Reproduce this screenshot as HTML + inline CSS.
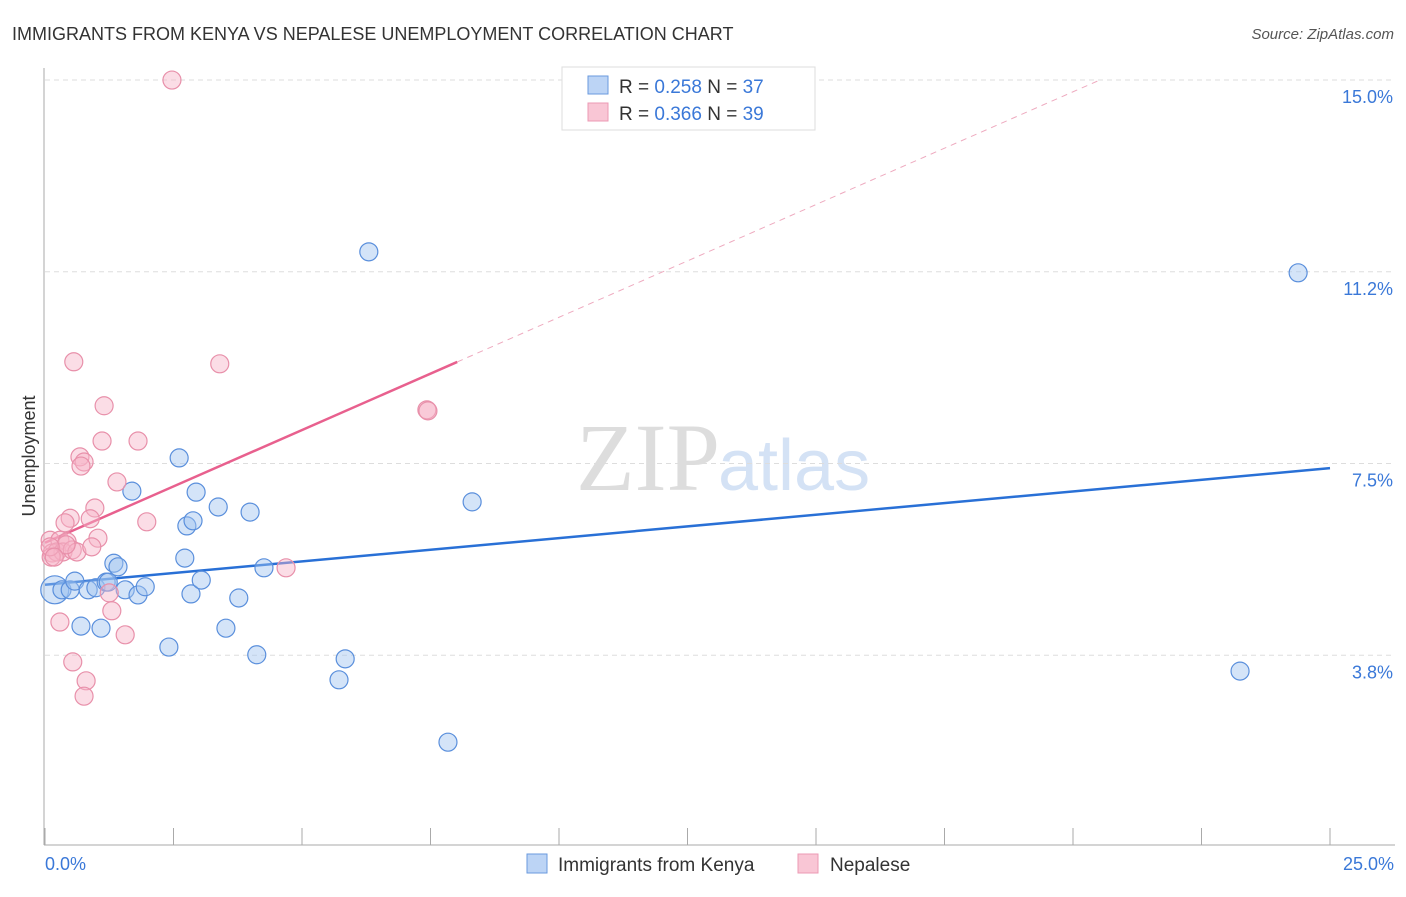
<!DOCTYPE html>
<html><head><meta charset="utf-8"><style>
body{margin:0;background:#fff;font-family:"Liberation Sans",sans-serif;}
</style></head><body>
<svg width="1406" height="892" xmlns="http://www.w3.org/2000/svg" font-family="Liberation Sans, sans-serif">
<text x="12" y="40" font-size="18" fill="#333">IMMIGRANTS FROM KENYA VS NEPALESE UNEMPLOYMENT CORRELATION CHART</text>
<text x="1394" y="39" font-size="15" fill="#555" font-style="italic" text-anchor="end">Source: ZipAtlas.com</text>
<text x="720" y="490" font-size="96" fill="#ddd" text-anchor="end" font-family="Liberation Serif, serif">ZIP</text>
<text x="718" y="490" font-size="72" fill="#d4e2f5">atlas</text>
<g id="grid"></g>
<g id="axes"></g>
<g id="lines"></g>
<g id="pts"></g>
<text x="35" y="456" font-size="18" fill="#333" text-anchor="middle" transform="rotate(-90 35 456)">Unemployment</text>
<text x="45" y="870" font-size="18" fill="#3a78d8">0.0%</text>
<text x="1394" y="870" font-size="18" fill="#3a78d8" text-anchor="end">25.0%</text>
<g>
<rect x="562" y="67" width="253" height="63" fill="#fff" stroke="#ddd"/>
<rect x="588" y="76" width="20" height="18" fill="#bcd4f5" stroke="#6a9ade"/>
<rect x="588" y="103" width="20" height="18" fill="#f9c6d5" stroke="#ec9ab4"/>
<text x="619" y="93" font-size="19" fill="#333">R = <tspan fill="#3a78d8">0.258</tspan>    N = <tspan fill="#3a78d8">37</tspan></text>
<text x="619" y="120" font-size="19" fill="#333">R = <tspan fill="#3a78d8">0.366</tspan>    N = <tspan fill="#3a78d8">39</tspan></text>
</g>
<g>
<rect x="527" y="854" width="20" height="19" fill="#bcd4f5" stroke="#6a9ade"/>
<text x="558" y="871" font-size="19" fill="#333">Immigrants from Kenya</text>
<rect x="798" y="854" width="20" height="19" fill="#f9c6d5" stroke="#ec9ab4"/>
<text x="830" y="871" font-size="19" fill="#333">Nepalese</text>
</g>
</svg>
<script>
const yTicks=[3.75,7.5,11.25,15];
const yTickLabels=["3.8%","7.5%","11.2%","15.0%"];
const xTicks=[0,2.5,5,7.5,10,12.5,15,17.5,20,22.5,25];
const kenyaX=[0.19,0.33,0.49,0.58,0.84,0.99,1.19,1.34,1.42,1.56,1.81,1.95,0.70,1.09,1.69,2.61,2.76,2.88,2.94,2.72,2.84,3.04,3.37,3.52,3.77,3.99,4.12,4.26,5.72,5.84,6.30,7.84,8.31,23.25,24.38,2.41,1.23];
const kenyaY=[5.03,5.03,5.03,5.20,5.03,5.07,5.18,5.55,5.48,5.03,4.93,5.09,4.32,4.28,6.96,7.61,6.28,6.38,6.94,5.65,4.95,5.22,6.65,4.28,4.87,6.55,3.76,5.46,3.27,3.68,11.64,2.05,6.75,3.44,11.23,3.91,5.18];
const nepX=[0.56,3.40,1.15,1.11,1.81,0.68,0.76,0.70,1.40,0.97,0.49,0.39,0.88,1.98,1.03,0.10,0.29,0.43,0.14,0.23,0.35,0.53,0.62,0.91,0.12,0.41,2.47,7.43,4.69,1.25,1.30,0.29,1.56,0.54,0.80,0.76,0.10,0.18,7.45];
const nepY=[9.49,9.45,8.63,7.94,7.94,7.63,7.53,7.45,7.14,6.63,6.43,6.34,6.42,6.36,6.04,6.00,6.00,5.97,5.75,5.77,5.77,5.81,5.77,5.87,5.67,5.91,15.0,8.55,5.46,4.97,4.62,4.40,4.15,3.62,3.25,2.95,5.87,5.67,8.53];
const kenyaTrend=[5.13,7.41];
const nepTrend=[5.95,0.441];
const X=v=>45+v/25*1285, Y=v=>847-v*51.13;
const NS="http://www.w3.org/2000/svg";
function mk(t,a,p){const e=document.createElementNS(NS,t);for(const k in a)e.setAttribute(k,a[k]);p.appendChild(e);return e;}
const grid=document.getElementById('grid'),axes=document.getElementById('axes'),lines=document.getElementById('lines'),pts=document.getElementById('pts');
yTicks.forEach((t,i)=>{const l=mk('line',{x1:45,x2:1395,y1:Y(t),y2:Y(t),stroke:'#ddd','stroke-dasharray':'5,4'},grid);

const tx=mk('text',{x:1393,y:Y(t)+23,'font-size':18,fill:'#3a78d8','text-anchor':'end'},grid);tx.textContent=yTickLabels[i];
});
mk('line',{x1:44,x2:44,y1:68,y2:845,stroke:'#aaa'},axes);
mk('line',{x1:44,x2:1395,y1:845,y2:845,stroke:'#aaa'},axes);
xTicks.forEach(t=>{const l=mk('line',{x1:X(t),x2:X(t),y1:828,y2:845,stroke:'#aaa'},axes);
});
let b=mk('line',{x1:X(0),y1:Y(kenyaTrend[0]),x2:X(25),y2:Y(kenyaTrend[1]),stroke:'#2970d6','stroke-width':2.5},lines);

const pEnd=8.02, pMax=(15-nepTrend[0])/nepTrend[1];
let p=mk('line',{x1:X(0),y1:Y(nepTrend[0]),x2:X(pEnd),y2:Y(nepTrend[0]+nepTrend[1]*pEnd),stroke:'#e8608e','stroke-width':2.5},lines);

let pd=mk('line',{x1:X(pEnd),y1:Y(nepTrend[0]+nepTrend[1]*pEnd),x2:X(pMax),y2:Y(15),stroke:'#eeaabf','stroke-width':1,'stroke-dasharray':'6,5'},lines);

kenyaX.forEach((x,i)=>{const c=mk('circle',{cx:X(x),cy:Y(kenyaY[i]),r:i==0?14:9,fill:'rgba(160,196,240,0.45)',stroke:'#5a8fdc','stroke-width':1.2},pts);
});
nepX.forEach((x,i)=>{const c=mk('circle',{cx:X(x),cy:Y(nepY[i]),r:9,fill:'rgba(246,180,200,0.45)',stroke:'#e890aa','stroke-width':1.2},pts);
});
</script>
</body></html>
